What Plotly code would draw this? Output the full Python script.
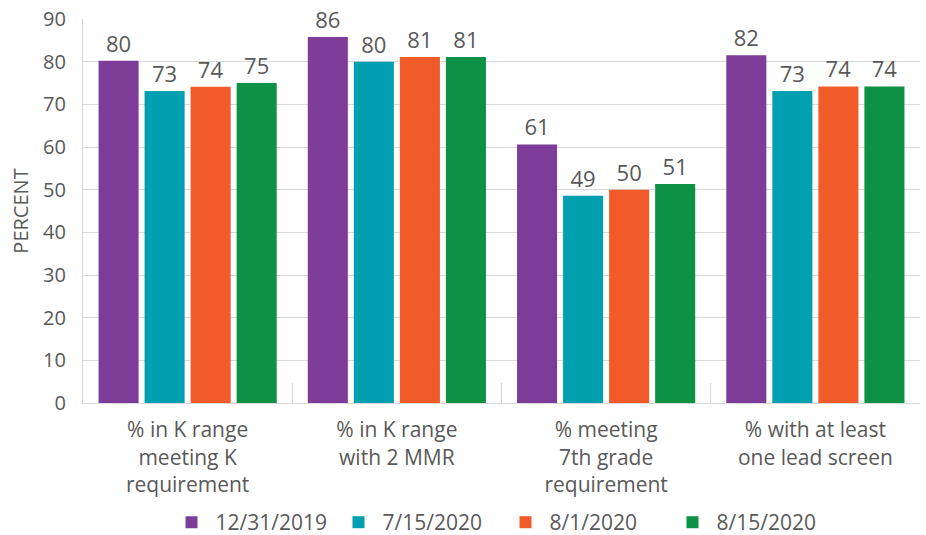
import plotly.graph_objects as go

categories = ["% in K range<br>meeting K<br>requirement",
              "% in K range<br>with 2 MMR",
              "% meeting<br>7th grade<br>requirement",
              "% with at least<br>one lead screen"]
series_names = ["12/31/2019", "7/15/2020", "8/1/2020", "8/15/2020"]
values_2019_12_31 = [80.2, 85.8, 60.6, 81.5]
values_2020_07_15 = [73.1, 80.0, 48.6, 73.1]
values_2020_08_01 = [74.1, 81.1, 50.0, 74.2]
values_2020_08_15 = [75.0, 81.1, 51.3, 74.2]
labels_2019_12_31 = ["80", "86", "61", "82"]
labels_2020_07_15 = ["73", "80", "49", "73"]
labels_2020_08_01 = ["74", "81", "50", "74"]
labels_2020_08_15 = ["75", "81", "51", "74"]
colors = ["#7d3c98", "#00a0b0", "#f15a29", "#0e9146"]
y_ticks = [0, 10, 20, 30, 40, 50, 60, 70, 80, 90]

all_values = [values_2019_12_31, values_2020_07_15, values_2020_08_01, values_2020_08_15]
all_labels = [labels_2019_12_31, labels_2020_07_15, labels_2020_08_01, labels_2020_08_15]

FONT = "Open Sans"
TXT = "#595959"

fig = go.Figure()
for name, vals, labs, col in zip(series_names, all_values, all_labels, colors):
    fig.add_trace(go.Bar(
        x=categories, y=vals, name=name, marker_color=col,
        marker_line_width=0,
        text=labs, textposition="outside", cliponaxis=False,
        textfont=dict(family=FONT, size=22, color=TXT),
    ))

fig.update_layout(
    width=926, height=535,
    margin=dict(l=83, r=6, t=19, b=132, autoexpand=False),
    paper_bgcolor="white", plot_bgcolor="white",
    barmode="group", bargap=0.12, bargroupgap=0.13,
    font=dict(family=FONT, color=TXT, size=20),
    legend=dict(orientation="h", x=0.5, xanchor="center", y=-0.258, yanchor="top",
                font=dict(family=FONT, size=21, color=TXT),
                entrywidth=114, entrywidthmode="pixels", itemwidth=38),
)
fig.update_yaxes(
    range=[0, 90], tickvals=y_ticks, showgrid=True, gridcolor="#d9d9d9", gridwidth=1.3,
    showline=True, linecolor="#d9d9d9", linewidth=1.3, zeroline=False, automargin=False,
    tickfont=dict(family=FONT, size=20, color=TXT), ticks="", ticklabelstandoff=12,
    title=dict(text="PERCENT", font=dict(family=FONT, size=20, color=TXT), standoff=8),
)
fig.update_xaxes(
    showline=True, linecolor="#d9d9d9", linewidth=1.3, automargin=False,
    ticks="inside", tickson="boundaries", ticklen=20, tickcolor="#d9d9d9", tickwidth=1.3,
    tickfont=dict(family=FONT, size=21, color=TXT), ticklabelstandoff=8,
)
fig.write_html("out.html", config={"displayModeBar": False},
               post_script="document.body.style.margin='0';")
